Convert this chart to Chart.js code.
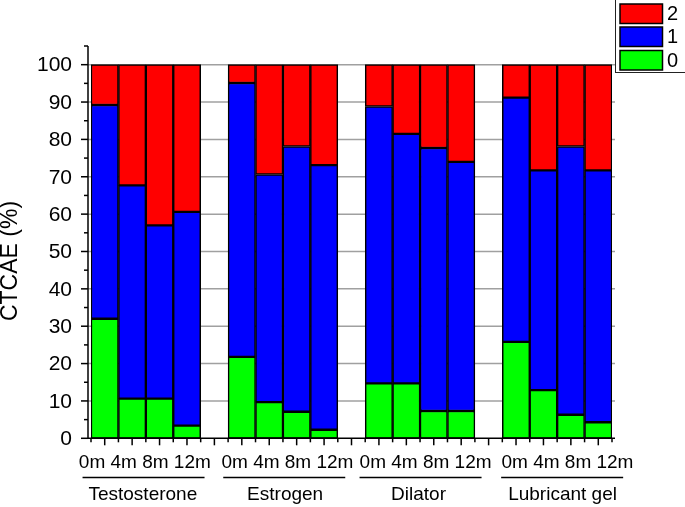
<!DOCTYPE html>
<html>
<head>
<meta charset="utf-8">
<script src="https://cdn.jsdelivr.net/npm/chart.js@4.4.1/dist/chart.umd.min.js"></script>
<style>
html,body{margin:0;padding:0;background:#fff;}
#wrap{width:685px;height:507px;}
</style>
</head>
<body>
<div id="wrap"><canvas id="c" width="685" height="507"></canvas></div>
<script>
// ---- data ----
const groups = ['Testosterone', 'Estrogen', 'Dilator', 'Lubricant gel'];
const timepoints = ['0m', '4m', '8m', '12m'];
const grade0 = [32.0, 10.6, 10.6, 3.4,  21.8, 9.7, 7.1, 2.3,  14.7, 14.7, 7.3, 7.3,  25.8, 12.9, 6.3, 4.3];
const grade1 = [57.2, 57.1, 46.4, 57.2, 73.3, 60.9, 71.0, 70.8, 74.1, 66.8, 70.4, 66.7, 65.4, 58.8, 71.8, 67.4];
const grade2 = [10.8, 32.3, 43.0, 39.4, 4.9, 29.4, 21.9, 26.9, 11.2, 18.5, 22.3, 26.0, 8.8, 28.3, 21.9, 28.3];
const yTicks = [0, 10, 20, 30, 40, 50, 60, 70, 80, 90, 100];
const legendItems = ['2', '1', '0'];

// build slots: 4 bars per group, one empty slot between groups
const labels = [];
const slotIndex = [];
groups.forEach((g, gi) => {
  timepoints.forEach((t, ti) => { slotIndex.push(labels.length); labels.push(g + ' ' + t); });
  if (gi < groups.length - 1) labels.push('');
});
function toSlots(arr) {
  const out = labels.map(() => null);
  arr.forEach((v, i) => { out[slotIndex[i]] = v; });
  return out;
}

const FONT = '"Liberation Sans", Arial, Helvetica, sans-serif';
const colors = { g0: '#00ff00', g1: '#0000ff', g2: '#ff0000' };
// small horizontal nudges of the group annotation texts (layout only)
const nudgeTicks = [-1, 4.5, 5.5, 10.3];
const nudgeLine = [-2.3, 1.3, 0.5, 5];
const nudgeName = [-3, 2.2, -1.5, 5.4];

const axesPlugin = {
  id: 'axesPlugin',
  beforeDatasetsDraw(chart) {
    const ctx = chart.ctx, y = chart.scales.y, a = chart.chartArea;
    const x0 = a.left - 3, x1 = a.right + 3;
    ctx.save();
    ctx.strokeStyle = '#a0a0a0';
    ctx.lineWidth = 1.5;
    yTicks.forEach(v => {
      if (v === 0) return;
      const py = y.getPixelForValue(v);
      ctx.beginPath(); ctx.moveTo(x0, py); ctx.lineTo(x1, py); ctx.stroke();
    });
    ctx.restore();
  },
  afterDatasetsDraw(chart) {
    const ctx = chart.ctx, y = chart.scales.y, x = chart.scales.x, a = chart.chartArea;
    const x0 = a.left - 3, x1 = a.right + 3;
    const yb = y.getPixelForValue(0), yt = y.getPixelForValue(105);
    ctx.save();
    ctx.strokeStyle = '#000';
    ctx.lineWidth = 1.5;
    ctx.beginPath(); ctx.moveTo(x0, yt); ctx.lineTo(x0, yb); ctx.stroke();
    ctx.beginPath(); ctx.moveTo(x0, yb); ctx.lineTo(x1, yb); ctx.stroke();
    for (let v = 0; v <= 105; v += 5) {
      const py = y.getPixelForValue(v);
      const len = (v % 10 === 0) ? 7 : 4;
      ctx.beginPath(); ctx.moveTo(x0, py); ctx.lineTo(x0 - len, py); ctx.stroke();
    }
    const n = labels.length;
    const w = (a.right - a.left) / n;
    for (let i = 0; i < n; i++) {
      const c = x.getPixelForValue(i);
      ctx.beginPath(); ctx.moveTo(c, yb); ctx.lineTo(c, yb + 7); ctx.stroke();
    }
    for (let i = 0; i <= n; i++) {
      const e = a.left + i * w;
      ctx.beginPath(); ctx.moveTo(e, yb); ctx.lineTo(e, yb + 4); ctx.stroke();
    }
    ctx.fillStyle = '#000';
    ctx.font = '21px ' + FONT;
    ctx.textAlign = 'right';
    ctx.textBaseline = 'middle';
    yTicks.forEach(v => ctx.fillText(String(v), 72, y.getPixelForValue(v) + 1));
    // y title
    ctx.save();
    ctx.translate(17, 261);
    ctx.rotate(-Math.PI / 2);
    ctx.textAlign = 'center';
    ctx.textBaseline = 'alphabetic';
    ctx.font = '23px ' + FONT;
    ctx.fillText('CTCAE (%)', 0, 0);
    ctx.restore();
    // x labels per group
    groups.forEach((g, gi) => {
      const first = x.getPixelForValue(gi * 5), last = x.getPixelForValue(gi * 5 + 3);
      const cx = (first + last) / 2;
      ctx.font = '19px ' + FONT;
      ctx.textAlign = 'center';
      ctx.textBaseline = 'middle';
      ctx.fillText(timepoints.join(' '), cx + nudgeTicks[gi], 463);
      const lc = cx + nudgeLine[gi];
      ctx.beginPath(); ctx.moveTo(lc - 61, 477.5); ctx.lineTo(lc + 61, 477.5); ctx.stroke();
      ctx.fillText(g, cx + nudgeName[gi], 495);
    });
    ctx.restore();
  },
  afterDraw(chart) {
    const ctx = chart.ctx;
    ctx.save();
    ctx.fillStyle = '#fff';
    ctx.fillRect(615, 0, 70, 73);
    ctx.strokeStyle = '#222';
    ctx.lineWidth = 1;
    ctx.strokeRect(615.5, -1, 75, 73.5);
    const sw = [colors.g2, colors.g1, colors.g0];
    const tops = [4, 27, 50.5];
    ctx.font = '20px ' + FONT;
    ctx.textAlign = 'left';
    ctx.textBaseline = 'middle';
    legendItems.forEach((t, i) => {
      ctx.fillStyle = sw[i];
      ctx.fillRect(620, tops[i], 42.5, 19.5);
      ctx.strokeStyle = '#000';
      ctx.lineWidth = 1.5;
      ctx.strokeRect(620, tops[i], 42.5, 19.5);
      ctx.fillStyle = '#000';
      ctx.fillText(t, 667, tops[i] + 10.5);
    });
    ctx.restore();
  }
};

new Chart(document.getElementById('c'), {
  type: 'bar',
  data: {
    labels: labels,
    datasets: [
      { label: '0', data: toSlots(grade0), backgroundColor: colors.g0 },
      { label: '1', data: toSlots(grade1), backgroundColor: colors.g1 },
      { label: '2', data: toSlots(grade2), backgroundColor: colors.g2 }
    ].map(d => Object.assign(d, { borderColor: '#000', borderWidth: 1.5, borderSkipped: false, barPercentage: 1, categoryPercentage: 1 }))
  },
  options: {
    responsive: false,
    animation: false,
    devicePixelRatio: 1,
    layout: { padding: { left: 91, right: 73, top: 46, bottom: 68.7 } },
    plugins: { legend: { display: false }, tooltip: { enabled: false } },
    scales: {
      x: { display: false, stacked: true, offset: true },
      y: { display: false, stacked: true, min: 0, max: 105 }
    }
  },
  plugins: [axesPlugin]
});
</script>
</body>
</html>
